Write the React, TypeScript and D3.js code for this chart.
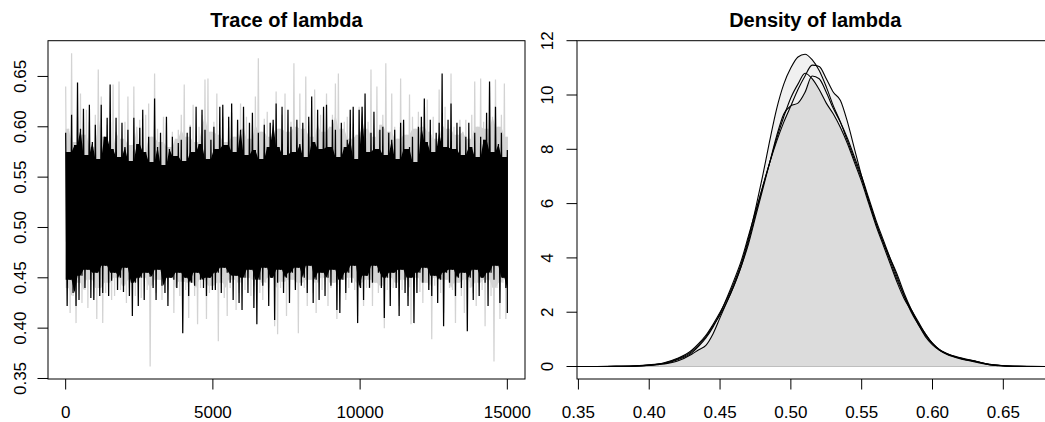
import React from "react";
import * as d3 from "d3";

const W = 1045;
const H = 422;
const FONT = '"Liberation Sans", Arial, Helvetica, sans-serif';

// ---- Trace data: per-bin upper / lower excursions of each chain (150 bins over 0..15000) ----
const N_BINS = 150;
const LAST_ITER = 15000;

const BLACK_HI = [
  0.594, 0.575, 0.612, 0.582, 0.644, 0.598, 0.618, 0.572, 0.622, 0.585,
  0.602, 0.568, 0.622, 0.59, 0.609, 0.642, 0.578, 0.609, 0.57, 0.604,
  0.58, 0.597, 0.566, 0.609, 0.583, 0.599, 0.617, 0.575, 0.59, 0.565,
  0.628, 0.58, 0.594, 0.562, 0.61, 0.578, 0.59, 0.571, 0.584, 0.587,
  0.566, 0.594, 0.6, 0.575, 0.62, 0.583, 0.617, 0.597, 0.568, 0.587,
  0.6, 0.578, 0.62, 0.622, 0.582, 0.61, 0.623, 0.575, 0.607, 0.597,
  0.62, 0.572, 0.604, 0.614, 0.577, 0.594, 0.568, 0.602, 0.58, 0.604,
  0.607, 0.623, 0.58, 0.62, 0.572, 0.617, 0.6, 0.575, 0.607, 0.583,
  0.604, 0.57, 0.61, 0.63, 0.585, 0.617, 0.578, 0.62, 0.622, 0.58,
  0.607, 0.597, 0.57, 0.604, 0.58, 0.587, 0.617, 0.62, 0.568, 0.617,
  0.62, 0.633, 0.575, 0.594, 0.615, 0.578, 0.597, 0.6, 0.572, 0.594,
  0.587, 0.597, 0.568, 0.604, 0.607, 0.578, 0.58, 0.59, 0.565, 0.6,
  0.61, 0.628, 0.585, 0.607, 0.575, 0.594, 0.604, 0.653, 0.58, 0.607,
  0.623, 0.578, 0.604, 0.6, 0.572, 0.59, 0.604, 0.58, 0.594, 0.57,
  0.59, 0.587, 0.614, 0.645, 0.575, 0.62, 0.583, 0.594, 0.57, 0.577,
];
const BLACK_LO = [
  0.422, 0.448, 0.435, 0.422, 0.428, 0.452, 0.44, 0.458, 0.43, 0.428,
  0.455, 0.432, 0.435, 0.462, 0.432, 0.447, 0.455, 0.438, 0.45, 0.436,
  0.46, 0.432, 0.412, 0.445, 0.422, 0.45, 0.428, 0.455, 0.451, 0.44,
  0.428, 0.458, 0.442, 0.435, 0.422, 0.45, 0.448, 0.44, 0.455, 0.395,
  0.45, 0.432, 0.445, 0.442, 0.455, 0.448, 0.44, 0.432, 0.45, 0.438,
  0.438, 0.455, 0.435, 0.46, 0.455, 0.445, 0.428, 0.452, 0.425, 0.418,
  0.45, 0.435, 0.458, 0.42, 0.404, 0.448, 0.442, 0.46, 0.422, 0.45,
  0.408, 0.445, 0.458, 0.435, 0.45, 0.425, 0.455, 0.438, 0.46, 0.442,
  0.45, 0.435, 0.462, 0.425, 0.448, 0.428, 0.455, 0.432, 0.45, 0.442,
  0.458, 0.418, 0.415, 0.448, 0.435, 0.455, 0.445, 0.462, 0.405, 0.44,
  0.428, 0.452, 0.44, 0.445, 0.462, 0.455, 0.44, 0.41, 0.45, 0.422,
  0.455, 0.44, 0.412, 0.458, 0.435, 0.422, 0.45, 0.405, 0.435, 0.455,
  0.445, 0.46, 0.438, 0.432, 0.452, 0.425, 0.448, 0.402, 0.455, 0.445,
  0.458, 0.432, 0.45, 0.44, 0.455, 0.397, 0.45, 0.428, 0.458, 0.432,
  0.45, 0.445, 0.422, 0.455, 0.448, 0.462, 0.425, 0.45, 0.44, 0.415,
];
const GRAY_HI = [
  0.64, 0.598, 0.673, 0.585, 0.61, 0.633, 0.592, 0.617, 0.605, 0.58,
  0.612, 0.657, 0.63, 0.59, 0.602, 0.578, 0.642, 0.595, 0.645, 0.588,
  0.605, 0.63, 0.582, 0.64, 0.6, 0.607, 0.575, 0.612, 0.623, 0.59,
  0.653, 0.598, 0.585, 0.61, 0.604, 0.58, 0.595, 0.588, 0.597, 0.612,
  0.642, 0.59, 0.602, 0.622, 0.585, 0.6, 0.612, 0.647, 0.648, 0.595,
  0.605, 0.633, 0.592, 0.61, 0.585, 0.6, 0.614, 0.59, 0.605, 0.623,
  0.598, 0.61, 0.588, 0.602, 0.63, 0.668, 0.595, 0.608, 0.615, 0.59,
  0.605, 0.635, 0.598, 0.612, 0.633, 0.595, 0.605, 0.663, 0.6, 0.633,
  0.598, 0.65, 0.605, 0.59, 0.637, 0.602, 0.612, 0.595, 0.633, 0.6,
  0.612, 0.643, 0.653, 0.598, 0.605, 0.61, 0.588, 0.6, 0.592, 0.62,
  0.62, 0.598, 0.605, 0.657, 0.59, 0.64, 0.602, 0.612, 0.663, 0.595,
  0.633, 0.6, 0.588, 0.648, 0.605, 0.592, 0.632, 0.61, 0.598, 0.615,
  0.6, 0.627, 0.627, 0.595, 0.61, 0.588, 0.637, 0.602, 0.62, 0.598,
  0.653, 0.6, 0.592, 0.607, 0.595, 0.607, 0.588, 0.612, 0.645, 0.6,
  0.648, 0.605, 0.598, 0.64, 0.61, 0.647, 0.6, 0.612, 0.643, 0.59,
];
const GRAY_LO = [
  0.44, 0.415, 0.432, 0.405, 0.445, 0.425, 0.438, 0.42, 0.448, 0.43,
  0.409, 0.44, 0.405, 0.435, 0.445, 0.428, 0.432, 0.45, 0.438, 0.442,
  0.425, 0.44, 0.448, 0.432, 0.445, 0.43, 0.45, 0.438, 0.362, 0.442,
  0.435, 0.448, 0.428, 0.445, 0.438, 0.45, 0.415, 0.44, 0.432, 0.446,
  0.438, 0.41, 0.445, 0.432, 0.404, 0.44, 0.448, 0.409, 0.435, 0.442,
  0.44, 0.387, 0.445, 0.43, 0.412, 0.44, 0.448, 0.418, 0.435, 0.445,
  0.438, 0.45, 0.432, 0.442, 0.448, 0.435, 0.428, 0.445, 0.44, 0.45,
  0.402, 0.394, 0.44, 0.446, 0.412, 0.438, 0.448, 0.44, 0.395, 0.445,
  0.44, 0.422, 0.448, 0.435, 0.415, 0.445, 0.438, 0.45, 0.422, 0.44,
  0.445, 0.409, 0.435, 0.448, 0.428, 0.44, 0.45, 0.438, 0.412, 0.445,
  0.422, 0.44, 0.448, 0.422, 0.445, 0.435, 0.442, 0.4, 0.438, 0.45,
  0.44, 0.445, 0.422, 0.438, 0.448, 0.432, 0.404, 0.44, 0.45, 0.436,
  0.425, 0.445, 0.438, 0.389, 0.442, 0.45, 0.435, 0.415, 0.448, 0.44,
  0.438, 0.405, 0.445, 0.432, 0.415, 0.448, 0.44, 0.435, 0.422, 0.445,
  0.438, 0.402, 0.448, 0.432, 0.367, 0.44, 0.409, 0.445, 0.409, 0.45,
];

const TRACE_X_TICKS = [0, 5000, 10000, 15000];
const TRACE_Y_TICKS = [0.35, 0.4, 0.45, 0.5, 0.55, 0.6, 0.65];

// ---- Density data: four chain densities on a shared grid ----
const DENS_X = [
  0.349, 0.36, 0.37, 0.38, 0.39, 0.4, 0.41, 0.42, 0.43,
  0.435, 0.44, 0.445, 0.45, 0.455, 0.46, 0.465, 0.47, 0.475, 0.48,
  0.485, 0.49, 0.495, 0.5, 0.505, 0.51, 0.515, 0.52, 0.525, 0.53,
  0.535, 0.54, 0.545, 0.55, 0.555, 0.56, 0.565, 0.57, 0.575, 0.58,
  0.585, 0.59, 0.595, 0.6, 0.605, 0.61,
  0.62, 0.63, 0.64, 0.65, 0.66, 0.67, 0.6855,
];
const DENS_A = [
  0, 0.002, 0.005, 0.01, 0.025, 0.06, 0.13, 0.3, 0.6,
  0.85, 1.15, 1.55, 2.0, 2.5, 3.1, 3.8, 4.7, 5.8, 7.0,
  8.3, 9.5, 10.4, 11.0, 11.4, 11.5, 11.3, 10.9, 10.3, 9.6,
  9.0, 8.3, 7.6, 6.9, 6.1, 5.3, 4.6, 3.9, 3.2, 2.6,
  2.0, 1.55, 1.15, 0.85, 0.62, 0.48,
  0.3, 0.17, 0.07, 0.03, 0.01, 0.004, 0,
];
const DENS_B = [
  0, 0.001, 0.003, 0.008, 0.02, 0.05, 0.12, 0.28, 0.55,
  0.8, 1.1, 1.5, 1.9, 2.4, 3.0, 3.7, 4.6, 5.6, 6.6,
  7.5, 8.3, 9.0, 9.6, 10.2, 10.7, 11.1, 11.05, 10.6, 10.1,
  9.8, 9.0, 8.0, 7.0, 6.1, 5.3, 4.6, 4.0, 3.4, 2.7,
  2.1, 1.6, 1.2, 0.85, 0.62, 0.48,
  0.32, 0.2, 0.08, 0.03, 0.01, 0.003, 0,
];
const DENS_C = [
  0, 0.001, 0.003, 0.008, 0.02, 0.05, 0.1, 0.25, 0.5,
  0.75, 1.05, 1.45, 1.95, 2.55, 3.2, 3.9, 4.8, 5.7, 6.6,
  7.5, 8.4, 9.2, 9.9, 10.4, 10.8, 10.6, 10.2, 9.7, 9.3,
  8.8, 8.2, 7.5, 6.8, 6.0, 5.2, 4.5, 3.8, 3.1, 2.5,
  2.05, 1.55, 1.1, 0.8, 0.6, 0.45,
  0.28, 0.2, 0.07, 0.025, 0.01, 0.003, 0,
];
const DENS_D = [
  0, 0, 0.002, 0.005, 0.015, 0.04, 0.09, 0.2, 0.45,
  0.62, 0.78, 1.2, 1.8, 2.4, 3.0, 3.7, 4.5, 5.5, 6.5,
  7.5, 8.5, 9.3, 9.6, 9.7, 10.1, 10.7, 10.6, 10.1, 9.5,
  9.0, 8.4, 7.7, 7.0, 6.2, 5.4, 4.7, 4.0, 3.3, 2.6,
  2.1, 1.65, 1.2, 0.85, 0.6, 0.46,
  0.3, 0.19, 0.08, 0.03, 0.01, 0.003, 0,
];
const DENS_SERIES = [DENS_A, DENS_B, DENS_C, DENS_D];
const DENS_X_TICKS = [0.35, 0.4, 0.45, 0.5, 0.55, 0.6, 0.65];
const DENS_Y_TICKS = [0, 2, 4, 6, 8, 10, 12];

// ---- layout ----
const LP = { left: 48, right: 525, top: 40.7, bottom: 379 };
const RP = { left: 577, right: 1053.6, top: 40.7, bottom: 379 };
const TICK = 10.5;

export default function App() {
  const xT = d3.scaleLinear().domain([-600, 15600]).range([LP.left, LP.right]);
  const yT = d3.scaleLinear().domain([0.3495, 0.6855]).range([LP.bottom, LP.top]);
  const xD = d3.scaleLinear().domain([0.349, 0.6855]).range([RP.left, RP.right]);
  const yD = d3.scaleLinear().domain([-0.46, 12]).range([RP.bottom, RP.top]);

  const iter = d3.range(N_BINS).map((i) => (i * LAST_ITER) / (N_BINS - 1));
  const bins = d3.range(N_BINS);

  // solid core of a chain: between the neighbouring extremes
  const coreArea = (hi: number[], lo: number[]) =>
    d3
      .area<number>()
      .x((i) => xT(iter[i]))
      .y0((i) => yT(Math.max(lo[Math.max(0, i - 1)], lo[i], lo[Math.min(N_BINS - 1, i + 1)])))
      .y1((i) => yT(Math.min(hi[Math.max(0, i - 1)], hi[i], hi[Math.min(N_BINS - 1, i + 1)])))
      .curve(d3.curveLinear)(bins) as string;

  // the excursions: a zig-zag visiting each bin's high then low
  const zigLine = (hi: number[], lo: number[]) => {
    const pts: [number, number][] = [];
    bins.forEach((i) => {
      pts.push([xT(iter[i]), yT(hi[i])]);
      const nx = i < N_BINS - 1 ? (iter[i] + iter[i + 1]) / 2 : iter[i];
      pts.push([xT(nx), yT(lo[i])]);
    });
    return d3.line().curve(d3.curveLinear)(pts) as string;
  };

  const idx = d3.range(DENS_X.length);
  const densArea = (vals: number[]) =>
    d3
      .area<number>()
      .x((i) => xD(DENS_X[i]))
      .y0(yD(0))
      .y1((i) => yD(vals[i]))
      .curve(d3.curveMonotoneX)(idx) as string;
  const densLine = (vals: number[]) =>
    d3
      .line<number>()
      .x((i) => xD(DENS_X[i]))
      .y((i) => yD(vals[i]))
      .curve(d3.curveMonotoneX)(idx) as string;
  const minVals = idx.map((i) => Math.min(...DENS_SERIES.map((s) => s[i])));

  const fmt2 = (v: number) => v.toFixed(2);
  const GRAY = "#D3D3D3";

  return (
    <svg
      width={W}
      height={H}
      style={{ position: "absolute", left: 0, top: 0, background: "#fff" }}
      fontFamily={FONT}
    >
      <defs>
        <clipPath id="clipL">
          <rect x={LP.left} y={LP.top} width={LP.right - LP.left} height={LP.bottom - LP.top} />
        </clipPath>
        <clipPath id="clipR">
          <rect x={RP.left} y={RP.top} width={RP.right - RP.left} height={RP.bottom - RP.top} />
        </clipPath>
      </defs>
      <rect x={0} y={0} width={W} height={H} fill="#fff" />

      {/* ---------- Trace panel ---------- */}
      <g clipPath="url(#clipL)">
        <path d={coreArea(GRAY_HI, GRAY_LO)} fill={GRAY} />
        <path d={zigLine(GRAY_HI, GRAY_LO)} fill="none" stroke={GRAY} strokeWidth={1.25} />
        <path d={coreArea(BLACK_HI, BLACK_LO)} fill="#000" />
        <path d={zigLine(BLACK_HI, BLACK_LO)} fill="none" stroke="#000" strokeWidth={1.25} />
      </g>
      <rect
        x={LP.left}
        y={LP.top}
        width={LP.right - LP.left}
        height={LP.bottom - LP.top}
        fill="none"
        stroke="#000"
        strokeWidth={1}
      />
      <text x={(LP.left + LP.right) / 2} y={26.7} textAnchor="middle" fontSize={20} fontWeight="bold">
        Trace of lambda
      </text>
      {TRACE_X_TICKS.map((t) => (
        <g key={"tx" + t}>
          <line x1={xT(t)} x2={xT(t)} y1={LP.bottom} y2={LP.bottom + TICK} stroke="#000" />
          <text x={xT(t)} y={418} textAnchor="middle" fontSize={17}>
            {t}
          </text>
        </g>
      ))}
      {TRACE_Y_TICKS.map((t) => (
        <g key={"ty" + t}>
          <line x1={LP.left - TICK} x2={LP.left} y1={yT(t)} y2={yT(t)} stroke="#000" />
          <text transform={`translate(25.5,${yT(t)}) rotate(-90)`} textAnchor="middle" fontSize={17}>
            {fmt2(t)}
          </text>
        </g>
      ))}

      {/* ---------- Density panel ---------- */}
      <g clipPath="url(#clipR)">
        {DENS_SERIES.map((s, k) => (
          <path key={"fa" + k} d={densArea(s)} fill="#F0F0F0" stroke="none" />
        ))}
        <path d={densArea(minVals)} fill="#DCDCDC" stroke="none" />
        <line x1={xD(0.349)} x2={RP.right} y1={yD(0)} y2={yD(0)} stroke="#BEBEBE" strokeWidth={1} />
        {DENS_SERIES.map((s, k) => (
          <path key={"dl" + k} d={densLine(s)} fill="none" stroke="#000" strokeWidth={1.1} />
        ))}
      </g>
      <rect
        x={RP.left}
        y={RP.top}
        width={RP.right - RP.left}
        height={RP.bottom - RP.top}
        fill="none"
        stroke="#000"
        strokeWidth={1}
      />
      <text x={(RP.left + RP.right) / 2} y={26.7} textAnchor="middle" fontSize={20} fontWeight="bold">
        Density of lambda
      </text>
      {DENS_X_TICKS.map((t) => (
        <g key={"dx" + t}>
          <line x1={xD(t)} x2={xD(t)} y1={RP.bottom} y2={RP.bottom + TICK} stroke="#000" />
          <text x={xD(t)} y={418} textAnchor="middle" fontSize={17}>
            {fmt2(t)}
          </text>
        </g>
      ))}
      {DENS_Y_TICKS.map((t) => (
        <g key={"dy" + t}>
          <line x1={RP.left - TICK} x2={RP.left} y1={yD(t)} y2={yD(t)} stroke="#000" />
          <text transform={`translate(553,${yD(t)}) rotate(-90)`} textAnchor="middle" fontSize={17}>
            {t}
          </text>
        </g>
      ))}
    </svg>
  );
}
